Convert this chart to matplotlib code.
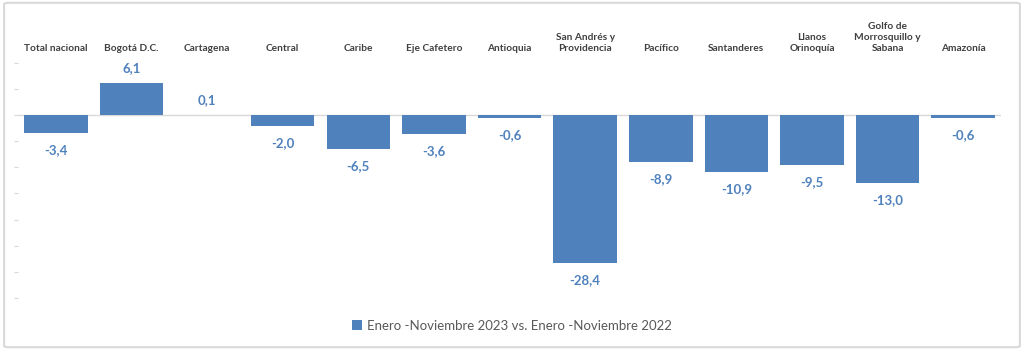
import numpy as np
import matplotlib.pyplot as plt
from matplotlib.patches import FancyBboxPatch

plt.rcParams['font.family'] = ['Lato', 'DejaVu Sans']

categorias = ["Total nacional", "Bogotá D.C.", "Cartagena", "Central", "Caribe",
              "Eje Cafetero", "Antioquia", "San Andrés y\nProvidencia", "Pacífico",
              "Santanderes", "Llanos\nOrinoquía", "Golfo de\nMorrosquillo y\nSabana",
              "Amazonía"]
valores = [-3.4, 6.1, 0.1, -2.0, -6.5, -3.6, -0.6, -28.4, -8.9, -10.9, -9.5, -13.0, -0.6]
serie = "Enero -Noviembre 2023 vs. Enero -Noviembre 2022"

azul = '#4F81BD'

fig = plt.figure(figsize=(10.24, 3.5), dpi=100)
ax = fig.add_axes([0.0176, 0.149, 0.96, 0.671])

x = np.arange(len(categorias))
ax.bar(x, valores, width=0.84, color=azul, label=serie, zorder=2)
ax.axhline(0, color='#d9d9d9', lw=1, zorder=1)

# etiquetas de valor, encima o debajo de la barra
for xi, v in zip(x, valores):
    off = 15 if v >= 0 else -17
    ax.annotate(('%.1f' % v).replace('.', ','), (xi, v), xytext=(0, off),
                textcoords='offset pixels', ha='center', va='center',
                fontsize=9.5, fontweight='bold', color=azul)

ax.set_xlim(-0.5, len(categorias) - 0.5)
ax.set_ylim(-35, 10)
ax.set_yticks(np.arange(-35, 11, 5))
ax.set_yticklabels([])
ax.tick_params(axis='y', length=3, color='#d9d9d9', width=0.8)
ax.xaxis.tick_top()
ax.set_xticks(x)
ax.set_xticklabels(categorias, fontsize=7.3, fontweight='bold', color='#404040',
                   linespacing=1.3)
ax.tick_params(axis='x', length=0, pad=7)
for s in ax.spines.values():
    s.set_visible(False)

fig.legend(loc='center', bbox_to_anchor=(0.5, 0.07), frameon=False, fontsize=9.5,
           handlelength=0.7, handleheight=0.7, handletextpad=0.4,
           labelcolor='#595959')

fig.patches.append(FancyBboxPatch((0.004, 0.008), 0.992, 0.984,
                                  boxstyle='round,pad=0,rounding_size=0.004',
                                  transform=fig.transFigure, fill=False,
                                  edgecolor='#d9d9d9', lw=1.5))

plt.savefig('out.png', dpi=100)
